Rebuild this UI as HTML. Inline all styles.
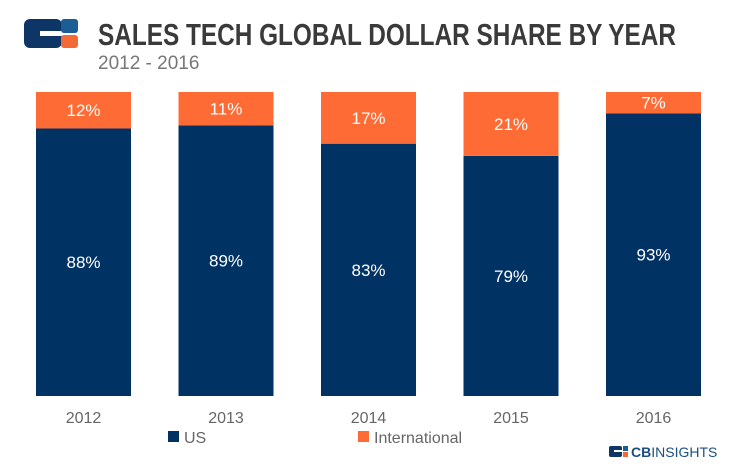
<!DOCTYPE html>
<html><head><meta charset="utf-8"><style>
html,body{margin:0;padding:0;background:#fff;}
svg{display:block;font-family:"Liberation Sans",sans-serif;}
</style></head><body>
<svg width="742" height="466" viewBox="0 0 742 466">
  <g>
    <rect x="24" y="19" width="38" height="29" rx="6" fill="#0d3566"/>
    <rect x="40" y="31" width="24" height="5" fill="#fff"/>
    <rect x="61" y="19" width="17" height="14" rx="3" fill="#1b5e96"/>
    <rect x="61" y="35" width="17" height="13" rx="3" fill="#f26a36"/>
  </g>
  <text x="98" y="45" font-family="'Liberation Sans Narrow','Liberation Sans',sans-serif" font-weight="bold" font-size="31" fill="#3a3a3a" textLength="578" lengthAdjust="spacingAndGlyphs">SALES TECH GLOBAL DOLLAR SHARE BY YEAR</text>
  <text x="98" y="69" font-size="19" fill="#777">2012 - 2016</text>
  <g id="bars"></g>
  <g>
    <rect x="168" y="431" width="11" height="11" fill="#003264"/>
    <text x="184" y="443" font-size="16" fill="#666">US</text>
    <rect x="358" y="431" width="11" height="11" fill="#ff6b35"/>
    <text x="374" y="443" font-size="16" fill="#666">International</text>
  </g>
  <g>
    <rect x="609" y="446" width="13" height="11" rx="2" fill="#0d3566"/>
    <rect x="614" y="450" width="9" height="2" fill="#fff"/>
    <rect x="623" y="446" width="5" height="5" fill="#1b5e96"/>
    <rect x="623" y="452" width="5" height="5" fill="#f26a36"/>
    <text x="631" y="457" font-size="14" fill="#1b4f80"><tspan font-weight="bold">CB</tspan>INSIGHTS</text>
  </g>
</svg>
<script>
const years=["2012","2013","2014","2015","2016"];
const usShare=[88,89,83,79,93];
const intlShare=[12,11,17,21,7];
const top0=92,bottom0=396,left0=36,step=142.5,bw=95;
function y(v){return bottom0-(v/100)*(bottom0-top0);}
const g=document.getElementById('bars');
const NS="http://www.w3.org/2000/svg";
function mk(tag,attrs,txt){const e=document.createElementNS(NS,tag);for(const k in attrs)e.setAttribute(k,attrs[k]);if(txt!==undefined)e.textContent=txt;g.appendChild(e);return e;}
years.forEach((yr,i)=>{
  const x=left0+i*step;
  const us=usShare[i],it=intlShare[i];
  const r1=mk('rect',{x:x,y:y(us),width:bw,height:bottom0-y(us),fill:'#003264'});
  
  
  const r2=mk('rect',{x:x,y:y(us+it),width:bw,height:y(us)-y(us+it),fill:'#ff6b35'});
  
  
  const t1=mk('text',{x:x+bw/2,y:(y(us)+bottom0)/2+6,'text-anchor':'middle','font-size':17,fill:'#fff'},us+'%');
  
  
  const t2=mk('text',{x:x+bw/2,y:(y(us+it)+y(us))/2+6,'text-anchor':'middle','font-size':17,fill:'#fff'},it+'%');
  
  
  const t3=mk('text',{x:x+bw/2,y:423,'text-anchor':'middle','font-size':16,fill:'#666'},yr);
  
  
});
</script>
</body></html>
